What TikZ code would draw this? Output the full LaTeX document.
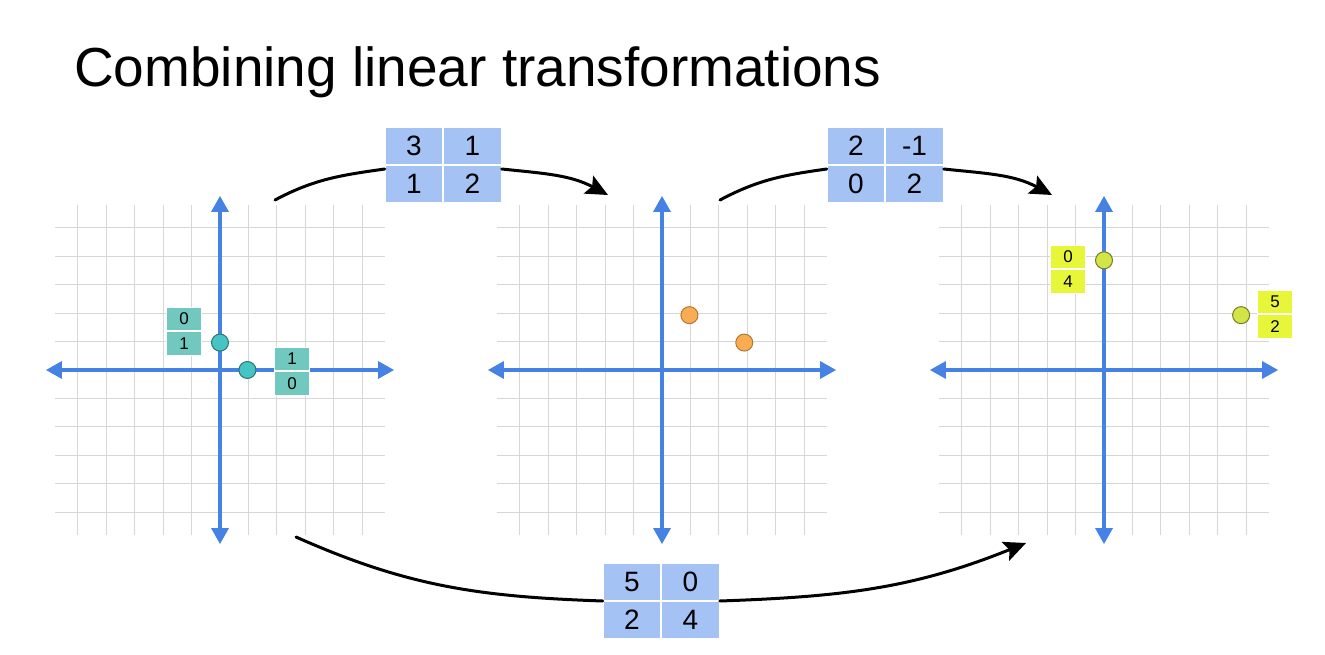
\documentclass[tikz,border=0pt]{standalone}
\usepackage{fontspec}
\setmainfont{Liberation Sans}
\usetikzlibrary{arrows.meta,positioning}
\definecolor{gridgray}{RGB}{214,214,214}
\definecolor{axisblue}{RGB}{70,130,228}
\definecolor{matblue}{RGB}{164,194,244}
\definecolor{tealbox}{RGB}{112,200,190}
\definecolor{tealdot}{RGB}{70,195,195}
\definecolor{orangedot}{RGB}{250,172,82}
\definecolor{limebox}{RGB}{232,246,58}
\definecolor{limedot}{RGB}{210,228,70}
\begin{document}
\begin{tikzpicture}[x=1pt, y=-1pt,
        gridline/.style={gridgray, line width=1.1pt},
        axis/.style={axisblue, line width=3.2pt, {Triangle[width=17pt,length=16pt]}-{Triangle[width=17pt,length=16pt]}},
        matcell/.style={rectangle, fill=matblue, draw=white, line width=1pt, minimum width=57.5pt, minimum height=37pt, inner sep=0pt, font=\fontsize{28}{30}\selectfont},
        tealcell/.style={rectangle, fill=tealbox, draw=white, line width=0.8pt, minimum width=35pt, minimum height=23.5pt, inner sep=0pt, font=\fontsize{17}{18}\selectfont},
        limecell/.style={tealcell, fill=limebox},
        vecdot/.style={circle, minimum size=17pt, inner sep=0pt, line width=1pt},
        curve/.style={black, line width=3pt, line cap=round},
        tip/.style={-{Stealth[length=22pt,width=20pt,inset=4pt]}}]
        \useasboundingbox (0,0) rectangle (1325,655);
        \node[anchor=base west, inner sep=0pt, font=\fontsize{55}{60}\selectfont] (title) at (74,87) {Combining linear transformations};
        \foreach \ox in {220,662,1104}{
            \begin{scope}[shift={(\ox,370)}, x=27.42pt, y=27.42pt]
                \draw[gridline] (-6,-6) grid (6,6);
                \draw[axis] (-6.35,0) -- (6.35,0);
                \draw[axis] (0,-6.35) -- (0,6.35);
            \end{scope}
        }
        \begin{scope}[shift={(220,370)}, x=27.42pt, y=27.42pt]
            \node[vecdot, fill=tealdot, draw=tealdot!60!black] (e2) at (0,1) {};
            \node[vecdot, fill=tealdot, draw=tealdot!60!black] (e1) at (1,0) {};
        \end{scope}
        \begin{scope}[shift={(662,370)}, x=27.42pt, y=27.42pt]
            \node[vecdot, fill=orangedot, draw=orangedot!70!black] (ae2) at (1,2) {};
            \node[vecdot, fill=orangedot, draw=orangedot!70!black] (ae1) at (3,1) {};
        \end{scope}
        \begin{scope}[shift={(1104,370)}, x=27.42pt, y=27.42pt]
            \node[vecdot, fill=limedot, draw=limedot!55!black] (bae2) at (0,4) {};
            \node[vecdot, fill=limedot, draw=limedot!55!black] (bae1) at (5,2) {};
        \end{scope}
        \node[tealcell] (l01a) at (184,319) {0};
        \node[tealcell, below=0pt of l01a] (l01b) {1};
        \node[tealcell] (l10a) at (292,359) {1};
        \node[tealcell, below=0pt of l10a] (l10b) {0};
        \node[limecell] (l04a) at (1068,257) {0};
        \node[limecell, below=0pt of l04a] (l04b) {4};
        \node[limecell] (l52a) at (1275,302) {5};
        \node[limecell, below=0pt of l52a] (l52b) {2};
        \node[matcell] (m1a) at (414,146) {3};
        \node[matcell, right=0pt of m1a] (m1b) {1};
        \node[matcell, below=0pt of m1a] (m1c) {1};
        \node[matcell, below=0pt of m1b] (m1d) {2};
        \node[matcell] (m2a) at (856,146) {2};
        \node[matcell, right=0pt of m2a] (m2b) {-1};
        \node[matcell, below=0pt of m2a] (m2c) {0};
        \node[matcell, below=0pt of m2b] (m2d) {2};
        \node[matcell] (m3a) at (632,582) {5};
        \node[matcell, right=0pt of m3a] (m3b) {0};
        \node[matcell, below=0pt of m3a] (m3c) {2};
        \node[matcell, below=0pt of m3b] (m3d) {4};
        \coordinate (s1) at (275,200);
        \coordinate (t1) at (608,195);
        \coordinate (s2) at (720,200);
        \coordinate (t2) at (1052,195);
        \coordinate (s3) at (296,537);
        \coordinate (t3) at (1026,543);
        \draw[curve] (s1) to[out=28,in=188] ([yshift=-4pt]m1a.south west);
        \draw[curve] (s2) to[out=28,in=188] ([yshift=-4pt]m2a.south west);
        \draw[curve] (s3) to[out=-24,in=178] (m3a.south west);
        \draw[curve, tip] ([yshift=-4pt]m1b.south east) to[out=-6,in=152] (t1);
        \draw[curve, tip] ([yshift=-4pt]m2b.south east) to[out=-6,in=152] (t2);
        \draw[curve, tip] (m3b.south east) to[out=2,in=202] (t3);
    \end{tikzpicture}
\end{document}
